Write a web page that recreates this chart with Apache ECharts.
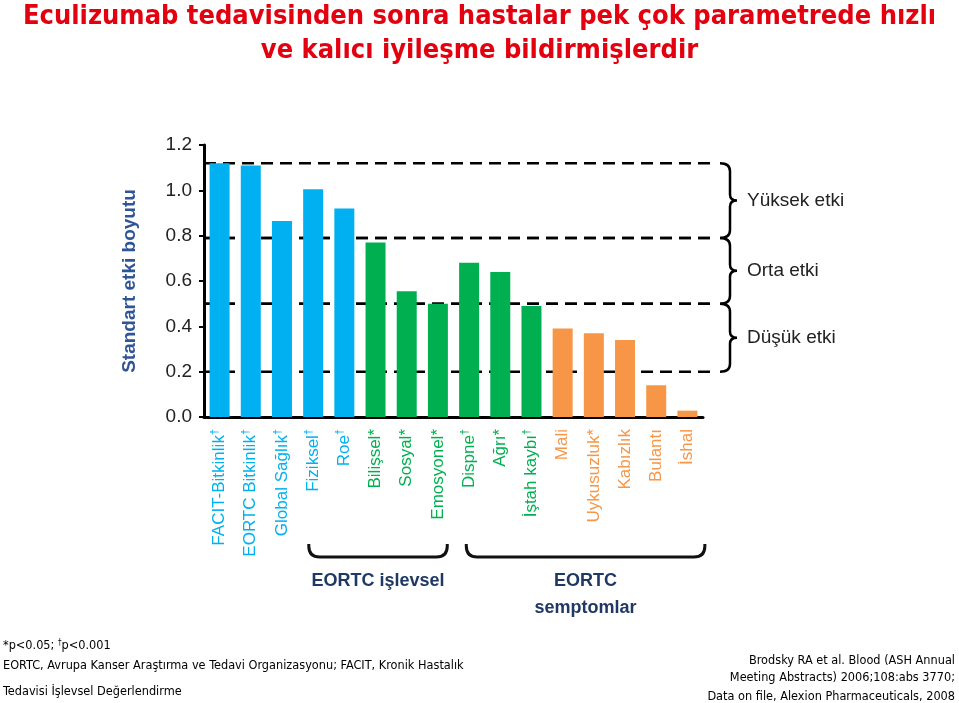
<!DOCTYPE html>
<html><head><meta charset="utf-8">
<script src="https://cdn.jsdelivr.net/npm/echarts@6/dist/echarts.min.js"></script>
<style>html,body{margin:0;padding:0;background:#fff}#c{width:959px;height:703px}</style>
</head><body><div id="c"></div>
<script>
// ---- data ----
const categories = ['FACIT-Bitkinlik','EORTC Bitkinlik','Global Sağlık','Fiziksel','Roe','Bilişsel','Sosyal','Emosyonel','Dispne','Ağrı','İştah kaybı','Mali','Uykusuzluk','Kabızlık','Bulantı','İshal'];
const marks = ['†','†','†','†','†','*','*','*','†','*','†','','*','','',''];
const groups = [0,0,0,0,0,1,1,1,1,1,1,2,2,2,2,2];
const values = [1.12,1.11,0.865,1.005,0.92,0.77,0.555,0.50,0.68,0.64,0.49,0.39,0.37,0.34,0.14,0.028];
const bandNames = ['Yüksek etki','Orta etki','Düşük etki'];
const bandLimits = [1.12, 0.79, 0.5, 0.2];
const bracketNames = ['EORTC işlevsel','EORTC\nsemptomlar'];
const bracketFrom = [3, 8];
const bracketTo = [7, 15];

// ---- styles ----
const groupColors = ['#00B0F0','#00B050','#F79646'];
const bracketPad = [[-0.14, 0.30], [-0.09, 0.56]];
const SANS = '"Liberation Sans", Arial, sans-serif';
const NARROW = '"Liberation Sans Narrow", "Arial Narrow", "DejaVu Sans Condensed", sans-serif';

const rich = {};
groupColors.forEach((c, g) => {
  rich['g' + g] = {color: c, fontSize: 17, fontFamily: SANS, lineHeight: 20};
  rich['s' + g] = {color: c, fontSize: 11, fontFamily: SANS, verticalAlign: 'top', lineHeight: 20};
});

const FN = '12.6px ' + NARROW;
const chart = echarts.init(document.getElementById('c'), null, {renderer: 'canvas'});
chart.setOption({
  animation: false,
  backgroundColor: '#fff',
  title: {
    text: 'Eculizumab tedavisinden sonra hastalar pek çok parametrede hızlı\nve kalıcı iyileşme bildirmişlerdir',
    left: 'center', top: 0, padding: 0,
    textStyle: {fontSize: 27, fontWeight: 'bold', color: '#E3000F', fontFamily: NARROW, lineHeight: 34}
  },
  grid: [
    {left: 204, right: 256, top: 145, bottom: 286},
    {left: 204, right: 242, top: 145, bottom: 286}
  ],
  xAxis: [
    {type: 'category', gridIndex: 0, data: categories,
     axisLine: {lineStyle: {color: '#000', width: 3}},
     axisTick: {show: false},
     axisLabel: {rotate: 90, margin: 12, interval: 0, rich: rich,
       formatter: (v, i) => {
         const g = groups[i];
         let s = '{g' + g + '|' + v + '}';
         if (marks[i] === '†') s += '{s' + g + '|†}';
         else if (marks[i]) s += '{g' + g + '|' + marks[i] + '}';
         return s;
       }}},
    {type: 'value', gridIndex: 1, min: 0, max: 1, show: false}
  ],
  yAxis: [
    {type: 'value', gridIndex: 0, min: 0, max: 1.2, interval: 0.2,
     name: 'Standart etki boyutu', nameLocation: 'middle', nameGap: 65, nameRotate: 90,
     nameTextStyle: {fontSize: 19, fontWeight: 'bold', color: '#2F5597', fontFamily: SANS},
     axisLine: {show: true, lineStyle: {color: '#000', width: 3}},
     axisTick: {show: true, length: 5, lineStyle: {color: '#000', width: 2}},
     splitLine: {show: false},
     axisLabel: {formatter: v => v.toFixed(1), fontSize: 19, color: '#222', margin: 12, fontFamily: SANS}},
    {type: 'value', gridIndex: 1, min: 0, max: 1.2, show: false}
  ],
  series: [
    {type: 'bar', xAxisIndex: 0, yAxisIndex: 0, barWidth: 20, z: 2,
     data: values.map((v, i) => ({value: v, itemStyle: {color: groupColors[groups[i]]}}))},
    {type: 'custom', xAxisIndex: 1, yAxisIndex: 1, z: 1, silent: true, clip: false,
     data: bandNames.map((n, i) => [1, bandLimits[i], bandLimits[i + 1], i]),
     renderItem: (params, api) => {
       const hi = api.value(1), lo = api.value(2), idx = api.value(3);
       const pL = api.coord([0, hi]), pR = api.coord([1, hi]), pLo = api.coord([1, lo]);
       const xL = pL[0], xR = pR[0], yT = pR[1], yB = pLo[1], yM = (yT + yB) / 2;
       const dash = {stroke: '#000', lineWidth: 2.5, lineDash: [12, 7], fill: null};
       const bx = xR + 3, vx = xR + 13, tx = xR + 20;
       const path = `M${bx} ${yT} Q${vx} ${yT} ${vx} ${yT + 8} L${vx} ${yM - 6} Q${vx} ${yM} ${tx} ${yM} Q${vx} ${yM} ${vx} ${yM + 6} L${vx} ${yB - 8} Q${vx} ${yB} ${bx} ${yB}`;
       return {type: 'group', children: [
         {type: 'line', shape: {x1: xL, y1: yT, x2: xR, y2: yT}, style: dash},
         {type: 'line', shape: {x1: xL, y1: yB, x2: xR, y2: yB}, style: dash},
         {type: 'path', shape: {pathData: path}, style: {stroke: '#000', lineWidth: 2.5, fill: null}},
         {type: 'text', style: {text: bandNames[idx], x: xR + 30, y: yM, textAlign: 'left', textVerticalAlign: 'middle',
           font: '19px ' + SANS, fill: '#222'}}
       ]};
     }},
    {type: 'custom', xAxisIndex: 0, yAxisIndex: 0, z: 3, silent: true, clip: false,
     data: bracketNames.map((n, i) => [bracketFrom[i], 0, bracketTo[i], i]),
     renderItem: (params, api) => {
       const idx = api.value(3);
       const band = api.size([1, 0])[0];
       const p1 = api.coord([api.value(0), 0]), p2 = api.coord([api.value(2), 0]);
       const xl = p1[0] + bracketPad[idx][0] * band, xr = p2[0] + bracketPad[idx][1] * band;
       const y0 = p1[1], yt = y0 + 127, yb = y0 + 140, r = 11;
       const path = `M${xl} ${yt} L${xl} ${yb - r} Q${xl} ${yb} ${xl + r} ${yb} L${xr - r} ${yb} Q${xr} ${yb} ${xr} ${yb - r} L${xr} ${yt}`;
       return {type: 'group', children: [
         {type: 'path', shape: {pathData: path}, style: {stroke: '#111', lineWidth: 3, fill: null}},
         {type: 'text', style: {text: bracketNames[idx], x: (xl + xr) / 2, y: y0 + 151, textAlign: 'center', textVerticalAlign: 'top',
           font: 'bold 18px ' + SANS, fill: '#1F3864', lineHeight: 27}}
       ]};
     }}
  ],
  graphic: [
    {type: 'text', left: 3, top: 639, style: {text: '*p<0.05; {s|†}p<0.001', font: FN, fill: '#000',
      rich: {s: {fontSize: 8, verticalAlign: 'top', fontFamily: NARROW}}}},
    {type: 'text', left: 3, top: 659, style: {text: 'EORTC, Avrupa Kanser Araştırma ve Tedavi Organizasyonu; FACIT, Kronik Hastalık', font: FN, fill: '#000'}},
    {type: 'text', left: 3, top: 685, style: {text: 'Tedavisi İşlevsel Değerlendirme', font: FN, fill: '#000'}},
    {type: 'text', right: 4, top: 654, style: {text: 'Brodsky RA et al. Blood (ASH Annual', font: FN, fill: '#000', textAlign: 'right'}},
    {type: 'text', right: 4, top: 671, style: {text: 'Meeting Abstracts) 2006;108:abs 3770;', font: FN, fill: '#000', textAlign: 'right'}},
    {type: 'text', right: 4, top: 690, style: {text: 'Data on file, Alexion Pharmaceuticals, 2008', font: FN, fill: '#000', textAlign: 'right'}}
  ]
});
</script>
</body></html>
